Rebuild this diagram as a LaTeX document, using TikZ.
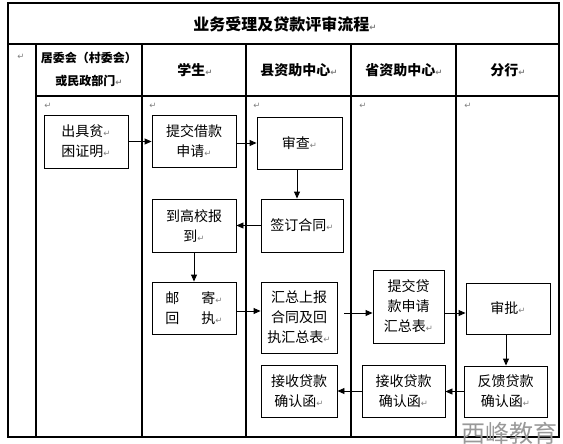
\documentclass[tikz,border=0pt]{standalone}
\usepackage{fontspec}
\newfontfamily\cjk{Noto Sans CJK SC}
\newfontfamily\retfont{DejaVu Sans}
\usetikzlibrary{arrows.meta}
\newcommand{\retmark}{{\retfont\color{gray}\fontsize{8.5}{8.5}\selectfont ↵}}

\begin{document}
\begin{tikzpicture}[x=1pt,y=-1pt,
    every node/.style={inner sep=0pt},
    flowbox/.style={draw, line width=0.9pt, align=center, font=\cjk\fontsize{14}{20}\selectfont},
    lane/.style={line width=1.2pt},
    arr/.style={-{Triangle[length=7pt,width=6pt]}, line width=0.9pt},
    head/.style={align=center, font=\cjk\bfseries\fontsize{14}{23}\selectfont}]
	\useasboundingbox (0,0) rectangle (563,444);
	\draw[lane] (8,3) rectangle (559,437);
	\draw[lane] (8,44) -- (559,44);
	\draw[lane] (36,96) -- (559,96);
	\foreach \x in {36,142,246,351,456} \draw[lane] (\x,44) -- (\x,437);
	\node (title) [head, font=\cjk\bfseries\fontsize{16}{16}\selectfont] at (285,24) {业务受理及贷款评审流程\retmark};
	\node (h0) at (21,57) {\retmark};
	\node (h1) [head, font=\cjk\bfseries\fontsize{12}{23}\selectfont] at (89,69) {居委会（村委会）\\或民政部门\retmark};
	\node (h2) [head] at (195,70) {学生\retmark};
	\node (h3) [head] at (299,70) {县资助中心\retmark};
	\node (h4) [head] at (404,70) {省资助中心\retmark};
	\node (h5) [head] at (508,70) {分行\retmark};
	\foreach \x in {48,153,257,363,468} \node (r\x) at (\x,106) {\retmark};
	\node (chuju) [flowbox, minimum width=84pt, minimum height=53pt] at (86,141.5) {出具贫\retmark\\困证明\retmark};
	\node (tijiao) [flowbox, minimum width=84pt, minimum height=52pt] at (194,141) {提交借款\\申请\retmark};
	\node (shencha) [flowbox, minimum width=85pt, minimum height=52pt] at (299.5,143) {审查\retmark};
	\node (qianding) [flowbox, minimum width=82pt, minimum height=53pt] at (302,225.5) {签订合同\retmark};
	\node (daogao) [flowbox, minimum width=84pt, minimum height=53pt] at (194,225.5) {到高校报\\到\retmark};
	\node (youji) [flowbox, minimum width=84pt, minimum height=52pt] at (194,308) {邮\hspace{22pt}寄\retmark\\回\hspace{22pt}执\retmark};
	\node (huizong) [flowbox, minimum width=76pt, minimum height=71pt] at (299,317.5) {汇总上报\\合同及回\\执汇总表\retmark};
	\node (tijiaodai) [flowbox, minimum width=71pt, minimum height=73pt] at (408.5,306.5) {提交贷\\款申请\\汇总表\retmark};
	\node (shenpi) [flowbox, minimum width=84pt, minimum height=51pt] at (508,308.5) {审批\retmark};
	\node (fankui) [flowbox, minimum width=83pt, minimum height=51pt] at (505.5,391.5) {反馈贷款\\确认函\retmark};
	\node (jieshou2) [flowbox, minimum width=83pt, minimum height=52pt] at (403.5,391) {接收贷款\\确认函\retmark};
	\node (jieshou1) [flowbox, minimum width=76pt, minimum height=52pt] at (299,391) {接收贷款\\确认函\retmark};
	\node (mark) [font=\cjk\fontsize{24}{24}\selectfont, text=gray!80] at (509,433) {西峰教育};
	\draw[arr] (chuju.east) -- (chuju.east -| tijiao.west);
	\draw[arr] ([yshift=-2pt]tijiao.east) -- ([yshift=-2pt]tijiao.east -| shencha.west);
	\draw[arr] ([xshift=-2.5pt]shencha.south) -- ([xshift=-2.5pt]shencha.south |- qianding.north);
	\draw[arr] (qianding.west) -- (qianding.west -| daogao.east);
	\draw[arr] (daogao) -- (youji);
	\draw[arr] ([yshift=-3pt]youji.east) -- ([yshift=-3pt]youji.east -| huizong.west);
	\draw[arr] ([xshift=7pt,yshift=4.5pt]huizong.east) -- ([yshift=4.5pt]huizong.east -| tijiaodai.west);
	\draw[arr] ([yshift=-6.5pt]tijiaodai.east) -- ([yshift=-6.5pt]tijiaodai.east -| shenpi.west);
	\draw[arr] ([xshift=-2pt]shenpi.south) -- ([xshift=-2pt]shenpi.south |- fankui.north);
	\draw[arr] (fankui.west) -- (fankui.west -| jieshou2.east);
	\draw[arr] (jieshou2.west) -- (jieshou2.west -| jieshou1.east);
\end{tikzpicture}
\end{document}
